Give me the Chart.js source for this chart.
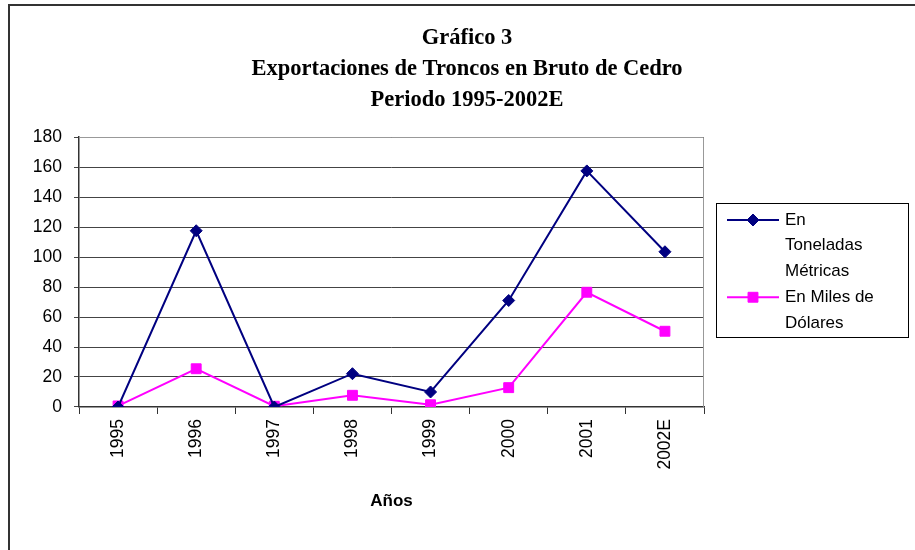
<!DOCTYPE html>
<html>
<head>
<meta charset="utf-8">
<script src="https://cdn.jsdelivr.net/npm/chart.js@4.4.0/dist/chart.umd.min.js"></script>
<style>
html, body { margin: 0; padding: 0; background: #fff; }
#wrap { position: relative; width: 915px; height: 550px; overflow: hidden; }
#frame { position: absolute; left: 8px; top: 4px; width: 1000px; height: 1000px; border-left: 2px solid #333; border-top: 2px solid #333; }
canvas { position: absolute; left: 0; top: 0; }
</style>
</head>
<body>
<div id="wrap">
  <div id="frame"></div>
  <canvas id="myChart" width="915" height="550"></canvas>
</div>
<script>
// data
const years = ['1995', '1996', '1997', '1998', '1999', '2000', '2001', '2002E'];
const toneladas = [0, 117.5, 0, 22.2, 10, 71, 157.4, 103.5];      // En Toneladas Métricas
const milesDolares = [0.7, 25.5, 0.5, 7.8, 1.5, 12.9, 76.5, 50.5]; // En Miles de Dólares
const titleLines = ['Gráfico 3', 'Exportaciones de Troncos en Bruto de Cedro', 'Periodo 1995-2002E'];
const legendLines = [['En', 'Toneladas', 'Métricas'], ['En Miles de', 'Dólares']];
const yTicks = [0, 20, 40, 60, 80, 100, 120, 140, 160, 180];

const sans = '"Liberation Sans", Arial, sans-serif';

// legend box on the right, drawn from the datasets
const legendBox = {
    id: 'legendBox',
    afterDraw: function (chart) {
        const ctx = chart.ctx;
        const left = chart.chartArea.right + 12;
        const top = 203;
        const lineH = 25.75;
        ctx.save();
        ctx.strokeStyle = '#000';
        ctx.lineWidth = 1;
        ctx.strokeRect(left + 0.5, top + 0.5, 192, 134);
        ctx.font = '17px ' + sans;
        ctx.textBaseline = 'middle';
        let y = top + 17;
        chart.data.datasets.forEach(function (ds, i) {
            ctx.strokeStyle = ds.borderColor;
            ctx.lineWidth = 2;
            ctx.beginPath();
            ctx.moveTo(left + 11, y);
            ctx.lineTo(left + 63, y);
            ctx.stroke();
            ctx.fillStyle = ds.backgroundColor;
            ctx.lineWidth = 1;
            Chart.helpers.drawPoint(ctx, { pointStyle: ds.pointStyle, radius: ds.pointRadius, borderWidth: 1 }, left + 37, y);
            ctx.fillStyle = '#000';
            legendLines[i].forEach(function (t) {
                ctx.fillText(t, left + 69, y);
                y += lineH;
            });
        });
        ctx.restore();
    }
};

// gray frame round the plot area
const plotFrame = {
    id: 'plotFrame',
    beforeDatasetsDraw: function (chart) {
        const a = chart.chartArea;
        const ctx = chart.ctx;
        ctx.save();
        ctx.strokeStyle = '#999';
        ctx.lineWidth = 1;
        ctx.beginPath();
        ctx.moveTo(a.left, a.top + 0.5);
        ctx.lineTo(a.right - 0.5, a.top + 0.5);
        ctx.lineTo(a.right - 0.5, a.bottom);
        ctx.stroke();
        ctx.restore();
    }
};

new Chart('myChart', {
    type: 'line',
    data: {
        labels: years,
        datasets: [{
            label: legendLines[0].join(' '),
            data: toneladas,
            borderColor: '#000080',
            backgroundColor: '#000080',
            borderWidth: 2,
            pointStyle: 'rectRot',
            pointRadius: 6,
            pointBorderWidth: 1,
            tension: 0
        }, {
            label: legendLines[1].join(' '),
            data: milesDolares,
            borderColor: '#FF00FF',
            backgroundColor: '#FF00FF',
            borderWidth: 2,
            pointStyle: 'rect',
            pointRadius: 7,
            pointBorderWidth: 1,
            tension: 0
        }]
    },
    options: {
        responsive: false,
        animation: false,
        layout: { padding: { left: 19, right: 0, top: 0, bottom: 38 } },
        plugins: {
            legend: { display: false },
            tooltip: { enabled: false },
            title: {
                display: true,
                text: titleLines,
                color: '#000',
                font: { family: '"Liberation Serif", "Times New Roman", serif', size: 22.5, weight: 'bold', lineHeight: 1.378 },
                padding: { top: 23, bottom: 21 }
            }
        },
        scales: {
            x: {
                offset: true,
                grid: { drawOnChartArea: false, tickLength: 7, color: '#333', offset: true },
                border: { color: '#333', width: 1.5 },
                ticks: { minRotation: 90, maxRotation: 90, padding: 5, color: '#000', font: { family: sans, size: 17.5 } },
                title: { display: true, text: 'Años', color: '#000', font: { family: sans, size: 17, weight: 'bold' }, padding: { top: 17, bottom: 0 } }
            },
            y: {
                min: 0,
                max: 180,
                afterBuildTicks: function (s) { s.ticks = yTicks.map(function (v) { return { value: v }; }); },
                afterFit: function (s) { s.width = 60; },
                grid: { color: '#444', tickLength: 5 },
                border: { color: '#333', width: 1.5 },
                ticks: { padding: 12, color: '#000', font: { family: sans, size: 17.5 } }
            },
            spacer: {
                position: 'right',
                grid: { display: false },
                border: { display: false },
                ticks: { display: false },
                afterFit: function (s) { s.width = 211; }
            }
        }
    },
    plugins: [plotFrame, legendBox]
});
</script>
</body>
</html>
